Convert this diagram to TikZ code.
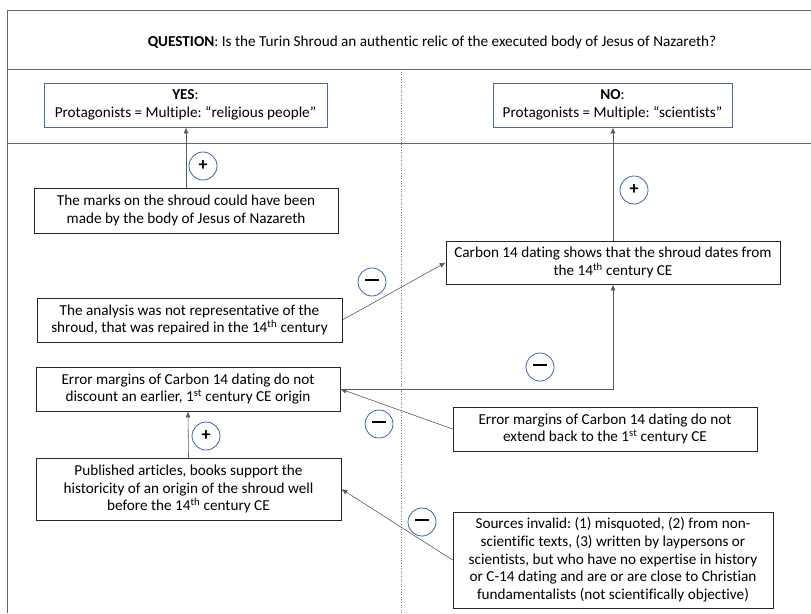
\documentclass[tikz,border=0pt]{standalone}
\usepackage{fontspec}
\setmainfont[Ligatures={NoCommon}]{Carlito}
\frenchspacing
\usetikzlibrary{arrows.meta}
\definecolor{boxblue}{RGB}{80,105,150}
\definecolor{circblue}{RGB}{60,100,170}
\definecolor{linegray}{RGB}{90,90,90}
\begin{document}
\begin{tikzpicture}[x=1pt,y=-1pt,
  txt/.style={font=\fontsize{15.2}{17.7}\selectfont, align=center, inner sep=0pt},
  claim/.style={txt, draw=black!85, line width=0.8pt, anchor=center},
  pole/.style={txt, draw=boxblue, line width=0.9pt, anchor=center},
  sign/.style={circle, draw=circblue, line width=0.8pt, fill=white, minimum size=28pt, inner sep=0pt, font=\fontsize{18}{18}\selectfont\bfseries},
  conn/.style={draw=linegray, line width=0.6pt},
  arr/.style={conn, -{Latex[length=6pt,width=5pt]}},
  frame/.style={draw=black!60, line width=0.9pt}
]
\useasboundingbox (0,0) rectangle (811,613);
% frame lines
\draw[frame] (7,10) -- (811,10);
\draw[frame] (7,10) -- (7,613);
\draw[frame] (7,69) -- (811,69);
\draw[frame] (7,143) -- (811,143);
\draw[draw=black!50, line width=0.6pt, dotted] (401,69) -- (401,613);

% question
\node[txt] (q) at (432,42) {\textbf{QUESTION}: Is the Turin Shroud an authentic relic of the executed body of Jesus of Nazareth?};

% poles
\node[pole, minimum width=283pt, minimum height=44pt] (yes) at (185.5,105) {\textbf{YES}:\\Protagonists = Multiple: “religious people”};
\node[pole, minimum width=239pt, minimum height=44pt] (no) at (612.5,105) {\textbf{NO}:\\Protagonists = Multiple: “scientists”};

% claims
\node[claim, minimum width=304pt, minimum height=45pt] (marks) at (186,210.5) {The marks on the shroud could have been\\made by the body of Jesus of Nazareth};
\node[claim, minimum width=305pt, minimum height=44pt] (analysis) at (189.5,320) {The analysis was not representative of the\\shroud, that was repaired in the 14\textsuperscript{th} century};
\node[claim, minimum width=334pt, minimum height=43pt] (carbon) at (613,262.5) {Carbon 14 dating shows that the shroud dates from\\the 14\textsuperscript{th} century CE};
\node[claim, minimum width=304pt, minimum height=44pt] (errL) at (188,389) {Error margins of Carbon 14 dating do not\\discount an earlier, 1\textsuperscript{st} century CE origin};
\node[claim, minimum width=304pt, minimum height=44pt] (errR) at (605,429) {Error margins of Carbon 14 dating do not\\extend back to the 1\textsuperscript{st} century CE};
\node[claim, minimum width=305pt, minimum height=62pt] (pub) at (188.5,489) {Published articles, books support the\\historicity of an origin of the shroud well\\before the 14\textsuperscript{th} century CE};
\node[claim, minimum width=320pt, minimum height=96pt] (src) at (613,560) {Sources invalid: (1) misquoted, (2) from non-\\scientific texts, (3) written by laypersons or\\scientists, but who have no expertise in history\\or C-14 dating and are or are close to Christian\\fundamentalists (not scientifically objective)};

% connectors
\draw[arr] (marks.north) -- (marks.north |- yes.south);
\draw[arr] (carbon.north) -- (carbon.north |- no.south);
\draw[arr] (analysis.east) -- (carbon.west);
\draw[arr] (errL.east) -| (carbon.south);
\draw[arr] (errR.west) -- (errL.east);
\draw[arr] (pub.north) -- (errL.south);
\draw[arr] (src.west) -- (pub.east);

% signs
\node[sign] (s1) at (203,166) {+};
\node[sign] (s2) at (634,190) {+};
\node[sign] (s3) at (372,282) {\rule[0.22em]{14pt}{1.8pt}};
\node[sign] (s4) at (540,367) {\rule[0.22em]{14pt}{1.8pt}};
\node[sign] (s5) at (379,424) {\rule[0.22em]{14pt}{1.8pt}};
\node[sign] (s6) at (206,436) {+};
\node[sign] (s7) at (422,522) {\rule[0.22em]{14pt}{1.8pt}};
\end{tikzpicture}
\end{document}
